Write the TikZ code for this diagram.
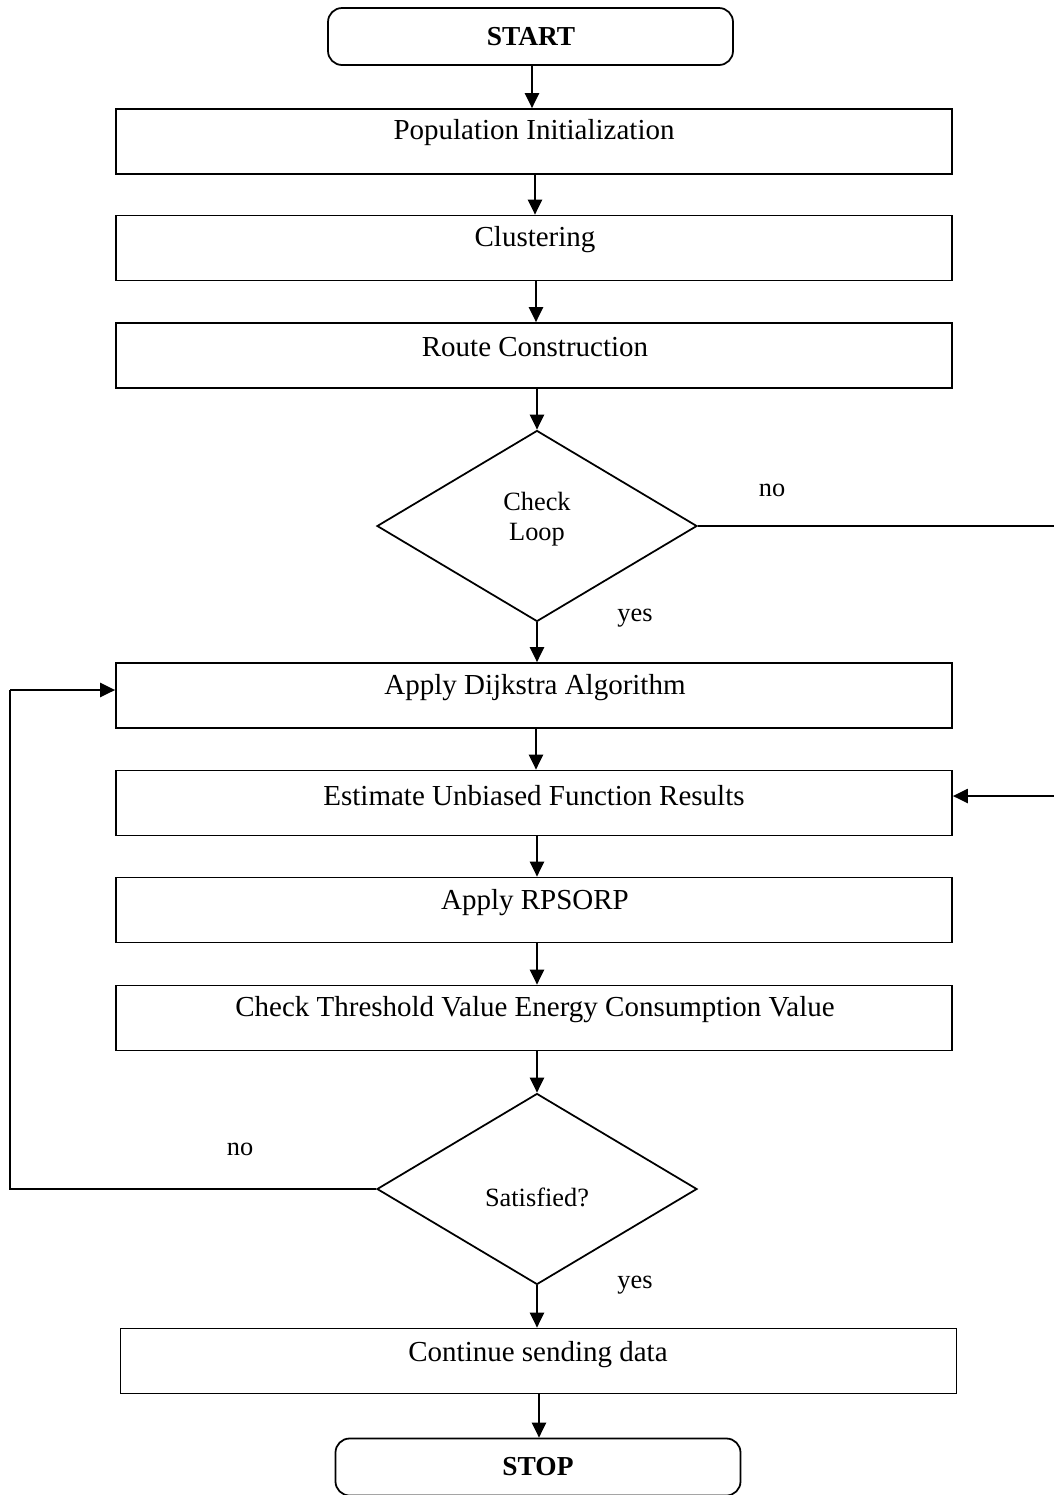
\documentclass[tikz,border=0pt]{standalone}
\usepackage{fontspec}
\setmainfont{Liberation Serif}
\usetikzlibrary{arrows.meta,shapes.geometric}
\begin{document}
\begin{tikzpicture}[x=0.02cm,y=-0.02cm,
  box/.style={draw,line width=1pt,minimum width=836*0.02cm,minimum height=65*0.02cm,inner sep=0pt},
  term/.style={draw,line width=1pt,rounded corners=8pt,minimum width=405*0.02cm,minimum height=57*0.02cm,inner sep=0pt},
  dia/.style={draw,line width=1pt,diamond,minimum width=320*0.02cm,minimum height=191*0.02cm,inner sep=0pt},
  txt/.style={font=\fontsize{16.5}{18}\selectfont,inner sep=0pt},
  dtxt/.style={font=\fontsize{15}{17}\selectfont,inner sep=0pt,align=center},
  btxt/.style={font=\fontsize{15.6}{18}\selectfont\bfseries,inner sep=0pt},
  arr/.style={line width=1.1pt,-{Triangle[length=8.5pt,width=8pt]}},
  ln/.style={line width=1.1pt}]
\clip (0,0) rectangle (1054,1495);
\fill[white] (0,0) rectangle (1054,1495);
% nodes
\node[term] (start) at (530.5,36.5) {};
\node[btxt] (tstart) at (531,37) {START};
\node[box] (pop) at (534,141.5) {};
\node[txt] (tpop) at (534,133) {Population Initialization};
\node[box] (clu) at (534,248) {};
\node[txt] (tclu) at (535,240) {Clustering};
\node[box] (route) at (534,355.5) {};
\node[txt] (troute) at (535,347) {Route Construction};
\node[dia] (loop) at (537,526) {};
\node[dtxt] (tloop) at (537,519) {Check\\Loop};
\node[box] (dij) at (534,695.5) {};
\node[txt] (tdij) at (535,688) {Apply Dijkstra Algorithm};
\node[box] (est) at (534,803) {};
\node[txt] (test) at (534,796) {Estimate Unbiased Function Results};
\node[box] (rps) at (534,910) {};
\node[txt] (trps) at (535,903) {Apply RPSORP};
\node[box] (thr) at (534,1018) {};
\node[txt] (tthr) at (535,1010) {Check Threshold Value Energy Consumption Value};
\node[dia] (sat) at (537,1189) {};
\node[dtxt] (tsat) at (537,1197) {Satisfied?};
\node[box] (cont) at (538.5,1361) {};
\node[txt] (tcont) at (538,1355) {Continue sending data};
\node[term] (stop) at (538,1467) {};
\node[btxt] (tstop) at (538,1467) {STOP};
% labels
\node[dtxt] (lno1) at (772,490) {no};
\node[dtxt] (lyes1) at (635,618) {yes};
\node[dtxt] (lno2) at (240,1149) {no};
\node[dtxt] (lyes2) at (635,1285) {yes};
% coordinates
\coordinate (r1) at (1062,526);
\coordinate (r2) at (1062,796);
\coordinate (eR) at (est.east |- r2);
\coordinate (l1) at (10,1189);
\coordinate (l2) at (10,690);
\coordinate (dL) at (dij.west |- l2);
% arrows
\draw[arr] (start.south -| 532,0) -- (pop.north -| 532,0);
\draw[arr] (pop.south -| 535,0) -- (clu.north -| 535,0);
\draw[arr] (clu.south -| 536,0) -- (route.north -| 536,0);
\draw[arr] (route.south -| loop.north) -- (loop.north);
\draw[arr] (loop.south) -- (dij.north -| loop.south);
\draw[arr] (dij.south -| 536,0) -- (est.north -| 536,0);
\draw[arr] (est.south -| 537,0) -- (rps.north -| 537,0);
\draw[arr] (rps.south -| 537,0) -- (thr.north -| 537,0);
\draw[arr] (thr.south -| sat.north) -- (sat.north);
\draw[arr] (sat.south) -- (cont.north -| sat.south);
\draw[arr] (cont.south -| 539,0) -- (stop.north -| 539,0);
\draw[ln] (loop.east) -- (r1) -- (r2);
\draw[arr] (r2) -- (eR);
\draw[ln] (sat.west) -- (l1) -- (l2);
\draw[arr] (l2) -- (dL);
\end{tikzpicture}
\end{document}
